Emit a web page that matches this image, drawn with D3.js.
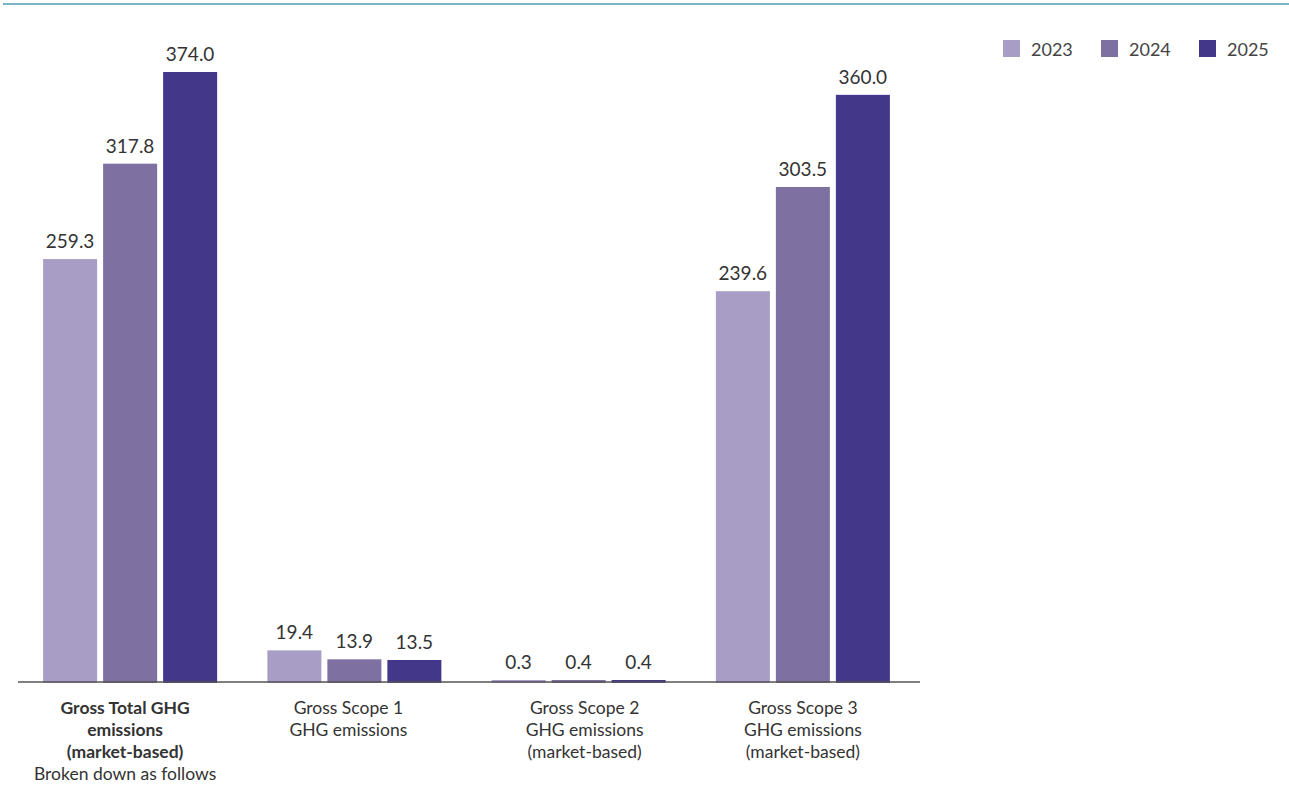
<!DOCTYPE html>
<html>
<head>
<meta charset="utf-8">
<script src="https://cdn.jsdelivr.net/npm/d3@7"></script>
<style>
  body { margin: 0; background: #fff; }
  svg { display: block; font-family: Lato, "Open Sans", sans-serif; }
</style>
</head>
<body>
<svg id="chart"></svg>
<script>
// chart data
const categories = ['total', 'scope1', 'scope2', 'scope3'];
const categoryLabels = [
    [['Gross Total GHG', true], ['emissions', true], ['(market-based)', true], ['Broken down as follows', false]],
    [['Gross Scope 1', false], ['GHG emissions', false]],
    [['Gross Scope 2', false], ['GHG emissions', false], ['(market-based)', false]],
    [['Gross Scope 3', false], ['GHG emissions', false], ['(market-based)', false]]
];
const years = ['2023', '2024', '2025'];
const values2023 = [259.3, 19.4, 0.3, 239.6];
const values2024 = [317.8, 13.9, 0.4, 303.5];
const values2025 = [374.0, 13.5, 0.4, 360.0];
const colors = ['#a79dc5', '#7e70a1', '#433789'];

const width = 1289;
const height = 787;
const labelShift = [-5, -6, 6, 0]; // label nudges per group

let svg = d3.select('#chart')
    .attr('width', width)
    .attr('height', height);

// top rule
svg.append('line')
    .attr('x1', 3).attr('x2', width)
    .attr('y1', 4).attr('y2', 4)
    .attr('stroke', '#78b6cb')
    .attr('stroke-width', 2);

let x0 = d3.scaleBand()
    .domain(categories)
    .range([18, 915]);

let x1 = d3.scaleBand()
    .domain(years)
    .range([-87, 87])
    .paddingInner(0.1);

let y = d3.scaleLinear()
    .domain([0, 374])
    .range([682, 72]);

let rows = [values2023, values2024, values2025];
let barData = [];
categories.forEach((c, i) => {
    years.forEach((yr, j) => {
        barData.push({ cat: c, year: yr, value: rows[j][i], color: colors[j] });
    });
});

let groupCenter = c => x0(c) + x0.bandwidth() / 2;

// bars
svg.append('g')
    .selectAll('rect')
    .data(barData)
    .enter()
    .append('rect')
    .attr('x', d => groupCenter(d.cat) + x1(d.year))
    .attr('width', x1.bandwidth())
    .attr('y', d => Math.min(y(d.value), y(0) - 2))
    .attr('height', d => Math.max(y(0) - y(d.value), 2) + 1)
    .attr('fill', d => d.color);

// value labels
svg.append('g')
    .selectAll('text')
    .data(barData)
    .enter()
    .append('text')
    .attr('x', d => groupCenter(d.cat) + x1(d.year) + x1.bandwidth() / 2)
    .attr('y', d => Math.min(y(d.value), y(0) - 2) - 11)
    .attr('text-anchor', 'middle')
    .attr('font-size', 19)
    .attr('fill', '#333')
    .text(d => d.value.toFixed(1));

// baseline
svg.append('line')
    .attr('x1', 18).attr('x2', 920)
    .attr('y1', y(0)).attr('y2', y(0))
    .attr('stroke', '#555')
    .attr('stroke-width', 1.5);

// category labels
let labelGroups = svg.append('g')
    .selectAll('text')
    .data(categories)
    .enter()
    .append('text')
    .attr('text-anchor', 'middle')
    .attr('font-size', 17.5)
    .attr('fill', '#333');

labelGroups.each(function (c, i) {
    let t = d3.select(this);
    categoryLabels[i].forEach((line, k) => {
        t.append('tspan')
            .attr('x', groupCenter(c) + labelShift[i])
            .attr('y', 714 + k * 22)
            .attr('font-weight', line[1] ? 'bold' : 'normal')
            .text(line[0]);
    });
});

// legend
let legend = svg.append('g')
    .selectAll('g')
    .data(years)
    .enter()
    .append('g')
    .attr('transform', (d, i) => `translate(${1003 + i * 98}, 40)`);

legend.append('rect')
    .attr('width', 17)
    .attr('height', 17)
    .attr('fill', (d, i) => colors[i]);

legend.append('text')
    .attr('x', 28)
    .attr('y', 16)
    .attr('font-size', 18)
    .attr('fill', '#444')
    .text(d => d);
</script>
</body>
</html>
